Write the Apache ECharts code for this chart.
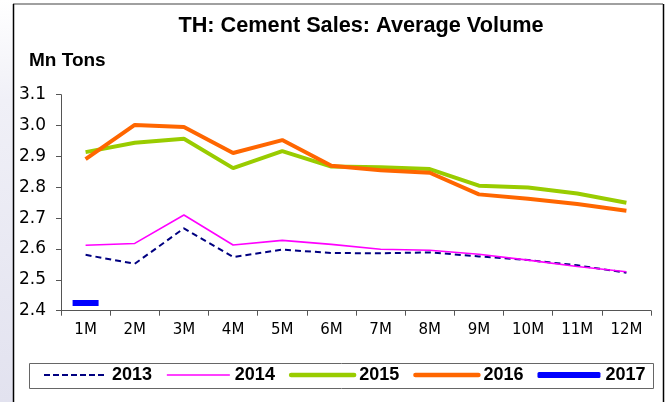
<!DOCTYPE html>
<html>
<head>
<meta charset="utf-8">
<script src="https://cdn.jsdelivr.net/npm/echarts@6/dist/echarts.min.js"></script>
<style>
html,body{margin:0;padding:0;background:#fff;}
#chart{width:669px;height:402px;}
</style>
</head>
<body>
<div id="chart"></div>
<script>
var categories = ['1M','2M','3M','4M','5M','6M','7M','8M','9M','10M','11M','12M'];
var s2013 = [2.581,2.552,2.667,2.574,2.598,2.587,2.586,2.589,2.576,2.564,2.547,2.523];
var s2014 = [2.612,2.618,2.710,2.613,2.628,2.615,2.599,2.596,2.583,2.564,2.543,2.526];
var s2015 = [2.914,2.944,2.957,2.862,2.917,2.867,2.865,2.859,2.805,2.799,2.780,2.750];
var s2016 = [2.891,3.002,2.995,2.911,2.953,2.870,2.855,2.847,2.777,2.763,2.746,2.724];
var s2017 = [2.425];
var yTicks = {min:2.4, max:3.1, interval:0.1};

var chart = echarts.init(document.getElementById('chart'), null, {renderer:'canvas'});
var font = 'Liberation Sans, Arial, sans-serif';
var hideSym = {opacity:0, borderWidth:0};
chart.setOption({
  animation:false,
  backgroundColor:'#ffffff',
  title:{
    text:'TH: Cement Sales: Average Volume',
    left:356, top:10, textAlign:'center',
    textStyle:{fontFamily:font,fontWeight:'bold',fontSize:21.7,color:'#000'}
  },
  graphic:[
    {type:'rect',shape:{x:0,y:0,width:13,height:402},style:{fill:{type:'linear',x:0,y:0,x2:0,y2:1,colorStops:[{offset:0,color:'#ffffff'},{offset:0.25,color:'#f0f0f7'},{offset:1,color:'#e2e2ef'}]}},silent:true},
    {type:'line',shape:{x1:13,y1:4,x2:663,y2:4},style:{stroke:'#808080',lineWidth:1.5},silent:true},
    {type:'line',shape:{x1:13.5,y1:4,x2:13.5,y2:402},style:{stroke:'#000',lineWidth:1.5},silent:true},
    {type:'line',shape:{x1:663.5,y1:4,x2:663.5,y2:402},style:{stroke:'#000',lineWidth:1.5},silent:true},
    {type:'rect',shape:{x:29.5,y:363.5,width:624,height:25},style:{fill:'#fff',stroke:'#666',lineWidth:1},z:-1,silent:true},
    {type:'text',left:29,top:51,style:{text:'Mn Tons',font:'bold 19px '+font,fill:'#000'},silent:true}
  ],
  grid:{left:61,right:18,top:94.7,bottom:91.3,containLabel:false},
  legend:{
    left:38, top:361, itemWidth:63, itemHeight:6, itemGap:14,
    textStyle:{fontFamily:font,fontWeight:'bold',fontSize:18,color:'#000'},
    data:[
      {name:'2013',itemStyle:hideSym,lineStyle:{width:2,type:[6,3]}},
      {name:'2014',itemStyle:hideSym,lineStyle:{width:1.6}},
      {name:'2015',itemStyle:hideSym,lineStyle:{width:4.5,cap:'round'}},
      {name:'2016',itemStyle:hideSym,lineStyle:{width:4.5,cap:'round'}},
      {name:'2017',icon:'roundRect'}
    ]
  },
  xAxis:{
    type:'category', data:categories, boundaryGap:true,
    axisLine:{lineStyle:{color:'#555',width:1}},
    axisTick:{show:true,length:5,lineStyle:{color:'#555'}},
    axisLabel:{fontFamily:'DejaVu Sans',fontSize:15,color:'#000',margin:12}
  },
  yAxis:{
    type:'value', min:yTicks.min, max:yTicks.max, interval:yTicks.interval,
    axisLine:{show:true,lineStyle:{color:'#555',width:1}},
    axisTick:{show:true,length:5,lineStyle:{color:'#555'}},
    splitLine:{show:false},
    axisLabel:{fontFamily:'DejaVu Sans',fontSize:17,color:'#000',margin:15,formatter:function(v){return v.toFixed(1);}}
  },
  series:[
    {name:'2013',type:'line',data:s2013,symbol:'none',lineStyle:{color:'#000080',width:2,type:[6,4]},itemStyle:{color:'#000080'}},
    {name:'2014',type:'line',data:s2014,symbol:'none',lineStyle:{color:'#ff00ff',width:1.6},itemStyle:{color:'#ff00ff'}},
    {name:'2015',type:'line',data:s2015,symbol:'none',lineStyle:{color:'#99cc00',width:4},itemStyle:{color:'#99cc00'}},
    {name:'2016',type:'line',data:s2016,symbol:'none',lineStyle:{color:'#ff6600',width:4},itemStyle:{color:'#ff6600'}},
    {name:'2017',type:'line',data:s2017,symbol:'rect',symbolSize:[26,6],showSymbol:true,lineStyle:{color:'#0000ff',width:5},itemStyle:{color:'#0000ff'}}
  ]
});
</script>
</body>
</html>
